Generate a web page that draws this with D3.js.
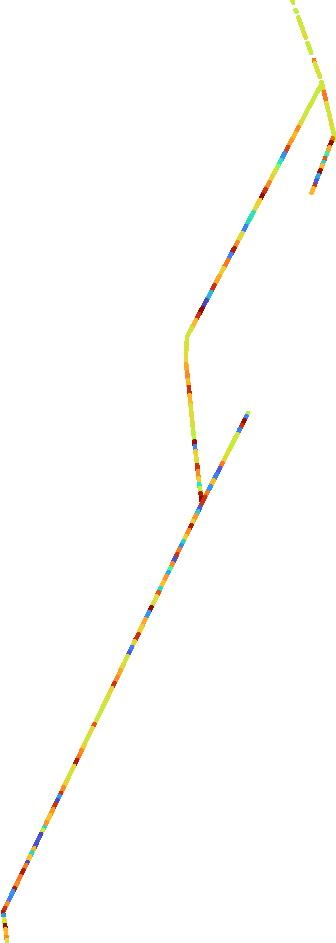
<!DOCTYPE html>
<html>
<head>
<meta charset="utf-8">
<script src="https://cdn.jsdelivr.net/npm/d3@7"></script>
<style>
  html, body { margin: 0; padding: 0; background: #fff; }
  svg { display: block; }
</style>
</head>
<body>
<svg id="track" width="336" height="943"></svg>
<script>
// track legs: [east m, north m, speed km/h of segment starting here] (null = no fix)
const legTop = [
  [1460,4715,19],[1466,4700,null],[1478,4665,18],[1482,4655,null],[1491,4630,19],
  [1515,4565,null],[1518,4555,20],[1529,4525,null],[1538,4500,18.5],[1556,4450,null],
  [1569,4415,24],[1574,4400,19.5],[1600,4330,null],[1608,4305,19],[1617,4265,20],
  [1619,4255,24],[1629,4215,null],[1632,4200,19.5],[1641,4165,null],[1644,4150,19],
  [1655,4105,20.5],[1661,4080,19],[1668,4050,18.5],[1676,4015,null]
];
const legSpur = [
  [1674,4050,19],[1664,4025,24.5],[1657,4005,28],[1647,3980,22.5],[1636,3950,12],
  [1626,3925,25],[1618,3905,10],[1612,3890,22],[1603,3865,28],[1593,3840,7],
  [1583,3815,3],[1574,3790,26],[1568,3775,22],[1558,3750,null]
];
const legWest = [
  [1610,4300,19],[1586,4255,18],[1565,4215,19],[1538,4165,18.5],[1512,4115,20],
  [1493,4080,23.5],[1477,4050,22],[1459,4015,23],[1440,3980,25.5],[1424,3950,5.5],
  [1406,3915,11],[1390,3885,16],[1379,3865,19.5],[1363,3835,21],[1347,3805,23.5],
  [1329,3770,26],[1313,3740,28.5],[1299,3715,21],[1281,3680,20],[1267,3655,11],
  [1246,3615,10],[1230,3585,5],[1212,3550,20],[1188,3505,23.5],[1172,3475,27],
  [1156,3445,5],[1140,3415,24],[1119,3375,21],[1097,3335,22.5],[1073,3290,26],
  [1055,3255,8],[1034,3215,2],[1012,3175,28.5],[996,3145,26],[980,3115,22],
  [959,3075,19],[935,3030,19],[933,2990,19.5],[930,2940,20],[931,2895,22.5],
  [935,2855,23.5],[940,2815,22],[944,2780,26],[948,2740,22],[953,2690,19.5],
  [958,2640,20],[963,2590,19],[967,2550,18],[972,2510,28],[974,2485,5],
  [977,2460,21],[982,2425,19.5],[986,2390,26],[989,2360,23.5],[993,2325,21],
  [996,2295,11],[999,2275,18],[1003,2250,27],[1006,2225,28.5],[1010,2200,null]
];
const legEast = [
  [1240,2650,18],[1233,2635,5],[1222,2615,28],[1210,2590,26],[1199,2570,5],
  [1187,2545,19],[1166,2505,18.5],[1146,2465,19.5],[1125,2425,20.5],[1112,2400,24],
  [1100,2375,3],[1084,2345,5],[1069,2315,22],[1054,2285,6],[1038,2255,24],
  [1026,2230,26],[1010,2200,null]
];
const legSouth = [
  [1010,2200,26],[1001,2180,3],[991,2160,9],[981,2140,23],[966,2110,21],
  [957,2090,27],[945,2065,23.5],[930,2035,21],[918,2010,10],[908,1990,5.5],
  [898,1970,24],[886,1945,26],[876,1925,2.5],[864,1900,23.5],[852,1875,13],
  [842,1855,7],[833,1835,23],[818,1805,21.5],[803,1775,10],[794,1755,25],
  [784,1735,19.5],[767,1700,20],[757,1680,28.5],[745,1655,6],[728,1620,22.5],
  [711,1585,21],[692,1545,26],[674,1510,21],[660,1480,5],[648,1455,3],
  [638,1435,19],[626,1410,null],[619,1395,20],[604,1365,22.5],[587,1330,23.5],
  [572,1300,26],[560,1275,21],[546,1245,19.5],[526,1205,19],[502,1155,18.5],
  [482,1115,19.5],[473,1095,25],[463,1075,20],[443,1035,19],[421,990,21],
  [409,965,23.5],[395,935,24],[385,915,27],[370,885,20],[353,850,19],
  [334,810,21],[319,780,23.5],[305,750,26],[297,735,6],[288,715,2],
  [278,695,26],[266,670,23],[251,640,21.5],[234,605,23],[222,580,10],
  [215,565,19],[205,545,2],[195,525,3],[186,505,2.5],[171,475,22],
  [161,455,10],[151,435,21.5],[137,405,2],[130,390,24],[117,365,27],
  [103,335,24],[86,300,23.5],[74,275,27],[66,260,6],[52,230,5],
  [37,200,23.5],[25,175,26],[15,155,27],[18,140,6],[21,120,19],
  [25,90,28],[28,70,22],[32,30,23.5],[34,15,19],[36,-15,null]
];
const legs = [legTop, legSpur, legWest, legEast, legSouth];

let chart = d3.select("#track");
let chart_width = 336, chart_height = 943;

let x = d3.scaleLinear().domain([0, 1680]).range([0, chart_width]);
let y = d3.scaleLinear().domain([0, 4715]).range([chart_height, 0]);

// speed -> turbo colour
let t = d3.scaleLinear().domain([0, 10, 18, 21, 23.5, 26, 29]).range([0.02, 0.3, 0.55, 0.63, 0.74, 0.87, 1]).clamp(true);
let colour = function (v) { return d3.interpolateTurbo(t(v)); };

let segs = [];
legs.forEach(function (leg) {
  d3.pairs(leg).forEach(function (p) {
    if (p[0][2] !== null) segs.push(p);
  });
});

chart.append("g")
  .selectAll("line")
  .data(segs).enter()
    .append("line")
      .attr("x1", function (d) { return x(d[0][0]); })
      .attr("y1", function (d) { return y(d[0][1]); })
      .attr("x2", function (d) { return x(d[1][0]); })
      .attr("y2", function (d) { return y(d[1][1]); })
      .attr("stroke", function (d) { return colour(d[0][2]); })
      .attr("stroke-width", 4.6)
      .attr("stroke-linecap", "round")
      .attr("shape-rendering", "crispEdges");
</script>
</body>
</html>
